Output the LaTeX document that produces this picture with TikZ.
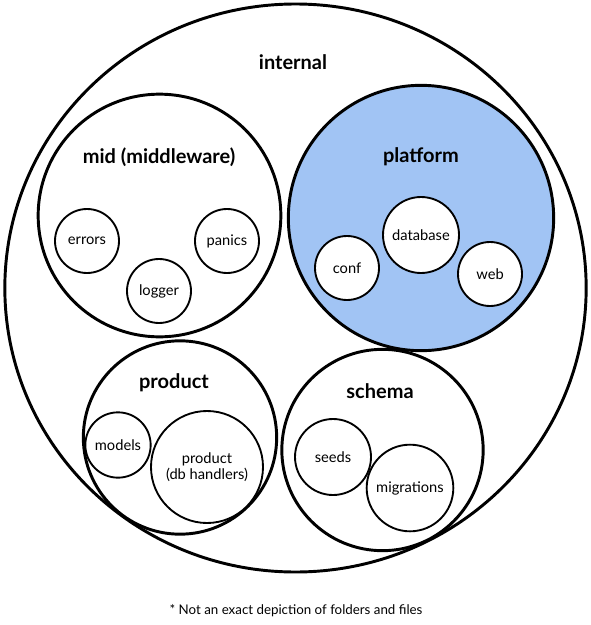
\documentclass[tikz,border=0pt]{standalone}
\usepackage{fontspec}
\setmainfont{Lato}
\usepackage{tikz}
\usetikzlibrary{shapes.geometric}
\definecolor{platformblue}{RGB}{161,196,244}
\tikzset{
    pkg/.style={circle, draw, line width=2.2pt, inner sep=0pt},
    leaf/.style={circle, draw, line width=1.4pt, fill=white, inner sep=0pt, align=center, font=\fontsize{11}{12.5}\selectfont},
    pkgname/.style={font=\fontsize{15}{17}\selectfont\bfseries}
}

\begin{document}
\begin{tikzpicture}[x=0.75pt,y=-0.75pt]
        \useasboundingbox (0,0) rectangle (591,625);
        \node[ellipse, draw, line width=2.2pt, minimum width=436pt, minimum height=426pt] (internal) at (295.5,288) {};
        \node[pkg, minimum size=182pt] (mid) at (159.5,215.5) {};
        \node[pkg, fill=platformblue, minimum size=199pt] (platform) at (421,218) {};
        \node[pkg, minimum size=145pt] (product) at (180,437.5) {};
        \node[pkg, minimum size=151pt] (schema) at (382.5,450) {};
        \node[pkgname] (internallbl) at (293,62) {internal};
        \node[pkgname] (midlbl) at (159,157) {mid (middleware)};
        \node[pkgname] (platformlbl) at (421,157) {platform};
        \node[pkgname] (productlbl) at (174,383) {product};
        \node[pkgname] (schemalbl) at (380,391) {schema};
        \foreach \name/\x/\y/\d/\txt in {errors/87/241/48/errors, panics/227/241/48/panics, logger/159/291/48/logger,
            database/421/235/57/database, conf/347/268/48/conf, web/490/274/48/web,
            models/118/445/49/models, handlers/207/467/84/{product\\(db handlers)},
            seeds/333/457/57/seeds, migrations/410/488/65/migrations}
        \node[leaf, minimum size=\d pt] (\name) at (\x,\y) {\txt};
        \node[font=\fontsize{10}{12}\selectfont] (note) at (296,611) {* Not an exact depiction of folders and files};
    \end{tikzpicture}
\end{document}
